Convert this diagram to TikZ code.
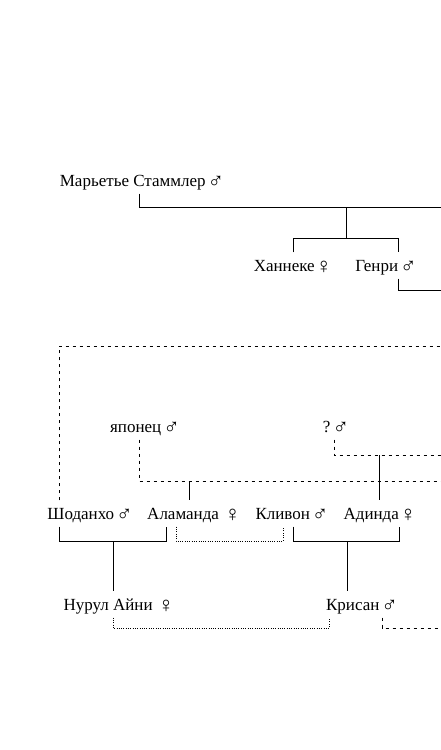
\documentclass[tikz,border=0pt]{standalone}
\usepackage{fontspec}
\setmainfont{Liberation Serif}
\usepackage{tikz}
\usetikzlibrary{positioning}
\usetikzlibrary{calc}

\newcommand{\msym}{\kern2pt\raisebox{-2.5pt}{\fontsize{22}{20}\selectfont ♂}}
\newcommand{\fsym}{\kern1pt\raisebox{-2.5pt}{\fontsize{22}{20}\selectfont ♀}}

\tikzset{
  pers/.style={font=\fontsize{17}{20}\selectfont, inner xsep=0pt, inner ysep=3.5pt,
    text height=15pt, text depth=4pt, anchor=base},
  kin/.style={line width=0.8pt},
  dashkin/.style={line width=0.8pt, dash pattern=on 3.5pt off 3.5pt},
  dotkin/.style={line width=0.8pt, dash pattern=on 0.8pt off 1.5pt}
}

\begin{document}
\begin{tikzpicture}[x=1pt,y=-1pt]
     \useasboundingbox (0,0) rectangle (441,750);
     % names
     \node[pers] (mar) at (142,186) {Марьетье Стаммлер\msym};
     \node[pers] (hann) at (293,271) {Ханнеке\fsym};
     \node[pers] (genri) at (386,271) {Генри\msym};
     \node[pers] (yap) at (145,432) {японец\msym};
     \node[pers] (unk) at (336,432) {?\msym};
     \node[pers] (shod) at (90,519) {Шоданхо\msym};
     \node[pers] (alam) at (194,519) {Аламанда \fsym};
     \node[pers] (kliv) at (292,519) {Кливон\msym};
     \node[pers] (adin) at (380,519) {Адинда\fsym};
     \node[pers] (nur) at (119,610) {Нурул Айни \fsym};
     \node[pers] (kris) at (362,610) {Крисан\msym};
     % junctions
     \coordinate (m1) at (139,207);
     \coordinate (m2) at (441,207);
     \coordinate (c1) at (346,207);
     \coordinate (c2) at (346,238);
     \coordinate (h1) at (293,238);
     \coordinate (h2) at (398,238);
     \coordinate (g1) at (398,290);
     \coordinate (g2) at (441,290);
     \coordinate (s0) at (59,346);
     \coordinate (s1) at (441,346);
     \coordinate (y1) at (139,481);
     \coordinate (y2) at (441,481);
     \coordinate (a1) at (189,481);
     \coordinate (u1) at (334,455);
     \coordinate (u2) at (441,455);
     \coordinate (d1) at (379,455);
     \coordinate (b1) at (59,541);
     \coordinate (b2) at (166,541);
     \coordinate (n1) at (113,541);
     \coordinate (p1) at (176,541);
     \coordinate (p2) at (283,541);
     \coordinate (k1) at (293,541);
     \coordinate (k2) at (399,541);
     \coordinate (r1) at (347,541);
     \coordinate (q1) at (113,628);
     \coordinate (q2) at (329,628);
     \coordinate (e1) at (382,628);
     \coordinate (e2) at (441,628);
     % solid lines
     \draw[kin] (m1 |- mar.south) -- (m1) -- (m2);
     \draw[kin] (c1) -- (c2);
     \draw[kin] (h1 |- hann.north) -- (h1) -- (h2) -- (h2 |- genri.north);
     \draw[kin] (g1 |- genri.south) -- (g1) -- (g2);
     \draw[kin] (a1) -- (a1 |- alam.north);
     \draw[kin] (d1) -- (d1 |- adin.north);
     \draw[kin] (b1 |- shod.south) -- (b1) -- (b2) -- (b2 |- alam.south);
     \draw[kin] (n1) -- (n1 |- nur.north);
     \draw[kin] (k1 |- kliv.south) -- (k1) -- (k2) -- (k2 |- adin.south);
     \draw[kin] (r1) -- (r1 |- kris.north);
     % dashed lines
     \draw[dashkin] (s0 |- shod.north) -- (s0) -- (s1);
     \draw[dashkin] (y1 |- yap.south) -- (y1) -- (y2);
     \draw[dashkin] (u1 |- unk.south) -- (u1) -- (u2);
     \draw[dashkin] (e1 |- kris.south) -- (e1) -- (e2);
     % dotted lines
     \draw[dotkin] (p1 |- alam.south) -- (p1) -- (p2) -- (p2 |- kliv.south);
     \draw[dotkin] (q1 |- nur.south) -- (q1) -- (q2) -- (q2 |- kris.south);
\end{tikzpicture}
\end{document}
